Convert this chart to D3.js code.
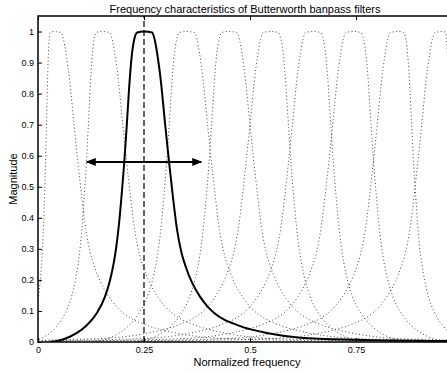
<!DOCTYPE html>
<html>
<head>
<meta charset="utf-8">
<script src="https://cdn.jsdelivr.net/npm/d3@7"></script>
<style>
  body { margin: 0; background: #fff; }
  svg { display: block; }
  text { font-family: "Liberation Sans", Arial, Helvetica, sans-serif; fill: #000; }
</style>
</head>
<body>
<svg id="chart" width="447" height="373"></svg>
<script>
// centre frequency of each filter in the bank (read from the peaks)
const filterCentres = [0.035, 0.15, 0.25, 0.35, 0.45, 0.55, 0.65, 0.745, 0.85, 0.955];
// width factor of the flank facing the nearest band edge
const nearScale = [0.37, 0.77, 1, 1, 1, 1, 1, 1, 0.77, 0.37];
const highlighted = 2;

// magnitude profile, as offset from its centre
const profOffset = [-0.222, -0.2, -0.175, -0.139, -0.112, -0.092, -0.080, -0.072, -0.065, -0.059, -0.053, -0.047,
  -0.041, -0.035, -0.029, -0.023, -0.016, 0, 0.019, 0.025, 0.031, 0.040, 0.050, 0.059, 0.068, 0.078, 0.088,
  0.099, 0.112, 0.132, 0.15, 0.167, 0.188, 0.210, 0.233, 0.257, 0.29, 0.328, 0.368, 0.5, 0.715];
const profMag = [0, 0.005, 0.017, 0.049, 0.092, 0.146, 0.2, 0.25, 0.31, 0.38, 0.47, 0.57,
  0.69, 0.82, 0.92, 0.975, 0.997, 1, 0.997, 0.975, 0.93, 0.838, 0.699, 0.581, 0.47, 0.361, 0.29,
  0.24, 0.195, 0.146, 0.114, 0.092, 0.073, 0.06, 0.048, 0.039, 0.029, 0.02, 0.014, 0.007, 0.003];

// bandwidth arrow and centre marker
const arrowSpan = [0.115, 0.385];
const arrowLevel = 0.58;
const centreMark = 0.25;

// ticks
const xTicks = [0, 0.25, 0.5, 0.75];
const xTickLabels = ['0', '0.25', '0.5', '0.75'];
const yTicks = [0, 0.1, 0.2, 0.3, 0.4, 0.5, 0.6, 0.7, 0.8, 0.9, 1];
const yTickLabels = ['0', '0.1', '0.2', '0.3', '0.4', '0.5', '0.6', '0.7', '0.8', '0.9', '1'];

const pLeft = 38, pTop = 16, pBottom = 342, pRight = 462;

const svg = d3.select('#chart');

const x = d3.scaleLinear().domain([0, 1]).range([pLeft, pRight]);
const y = d3.scaleLinear().domain([0, 1.05]).range([pBottom, pTop]);

svg.append('clipPath').attr('id', 'plot')
  .append('rect')
  .attr('x', pLeft).attr('y', pTop)
  .attr('width', pRight - pLeft).attr('height', pBottom - pTop);

// one filter: profile mirrored for the upper half of the band
function filterPoints(i) {
  const c = filterCentres[i];
  const flip = c > 0.5 ? -1 : 1;
  return profOffset.map((o, k) => {
    let off = o * flip;
    if ((c <= 0.5 && off < 0) || (c > 0.5 && off > 0)) off *= nearScale[i];
    return { f: c + off, m: profMag[k] };
  }).sort((a, b) => a.f - b.f);
}

const line = d3.line()
  .x(d => x(d.f))
  .y(d => y(d.m))
  .curve(d3.curveMonotoneX);

const plot = svg.append('g').attr('clip-path', 'url(#plot)');

plot.selectAll('path.dotted')
  .data(filterCentres.map((c, i) => i).filter(i => i !== highlighted))
  .enter()
  .append('path')
  .attr('class', 'dotted')
  .attr('d', i => line(filterPoints(i)))
  .attr('fill', 'none')
  .attr('stroke', '#444')
  .attr('stroke-width', 1)
  .attr('stroke-dasharray', '1,2.5');

// centre line
plot.append('line')
  .attr('x1', x(centreMark)).attr('x2', x(centreMark))
  .attr('y1', y(0)).attr('y2', y(1.05))
  .attr('stroke', '#333')
  .attr('stroke-width', 1.5)
  .attr('stroke-dasharray', '6,3');

plot.append('path')
  .attr('d', line(filterPoints(highlighted)))
  .attr('fill', 'none')
  .attr('stroke', '#000')
  .attr('stroke-width', 2);

// double arrow
svg.append('defs').append('marker')
  .attr('id', 'head')
  .attr('viewBox', '0 0 10 8')
  .attr('refX', 9).attr('refY', 4)
  .attr('markerWidth', 10).attr('markerHeight', 8)
  .attr('markerUnits', 'userSpaceOnUse')
  .attr('orient', 'auto-start-reverse')
  .append('path')
  .attr('d', 'M0,0L10,4L0,8Z')
  .attr('fill', '#000');

svg.append('line')
  .attr('x1', x(arrowSpan[0])).attr('x2', x(arrowSpan[1]))
  .attr('y1', y(arrowLevel)).attr('y2', y(arrowLevel))
  .attr('stroke', '#000')
  .attr('stroke-width', 2)
  .attr('marker-start', 'url(#head)')
  .attr('marker-end', 'url(#head)');

// axes, ticks inside like matlab
const xAxis = d3.axisBottom(x).tickValues(xTicks)
  .tickFormat((d, i) => xTickLabels[i]).tickSizeInner(-4).tickSizeOuter(0).tickPadding(5);
const xAxisTop = d3.axisTop(x).tickValues(xTicks)
  .tickFormat('').tickSizeInner(-4).tickSizeOuter(0);
const yAxis = d3.axisLeft(y).tickValues(yTicks)
  .tickFormat((d, i) => yTickLabels[i]).tickSizeInner(-4).tickSizeOuter(0).tickPadding(4);

function styleAxis(g) {
  g.select('.domain').remove();
  g.selectAll('.tick line').attr('stroke', '#000').attr('stroke-width', 1);
  g.selectAll('.tick text').style('font-size', '9px').attr('fill', '#000');
}

svg.append('g').attr('transform', 'translate(0,' + pBottom + ')').call(xAxis).call(styleAxis);
svg.append('g').attr('transform', 'translate(0,' + pTop + ')').call(xAxisTop).call(styleAxis);
svg.append('g').attr('transform', 'translate(' + pLeft + ',0)').call(yAxis).call(styleAxis);

// box
svg.append('rect')
  .attr('x', pLeft).attr('y', pTop)
  .attr('width', pRight - pLeft).attr('height', pBottom - pTop)
  .attr('fill', 'none')
  .attr('stroke', '#000')
  .attr('stroke-width', 1.5);

// labels
svg.append('text')
  .attr('x', 245).attr('y', 12.5)
  .attr('text-anchor', 'middle')
  .style('font-size', '11px')
  .text('Frequency characteristics of Butterworth banpass filters');

svg.append('text')
  .attr('x', 247).attr('y', 366)
  .attr('text-anchor', 'middle')
  .style('font-size', '11px')
  .text('Normalized frequency');

svg.append('text')
  .attr('transform', 'translate(17,179) rotate(-90)')
  .attr('text-anchor', 'middle')
  .style('font-size', '11px')
  .text('Magnitude');
</script>
</body>
</html>
